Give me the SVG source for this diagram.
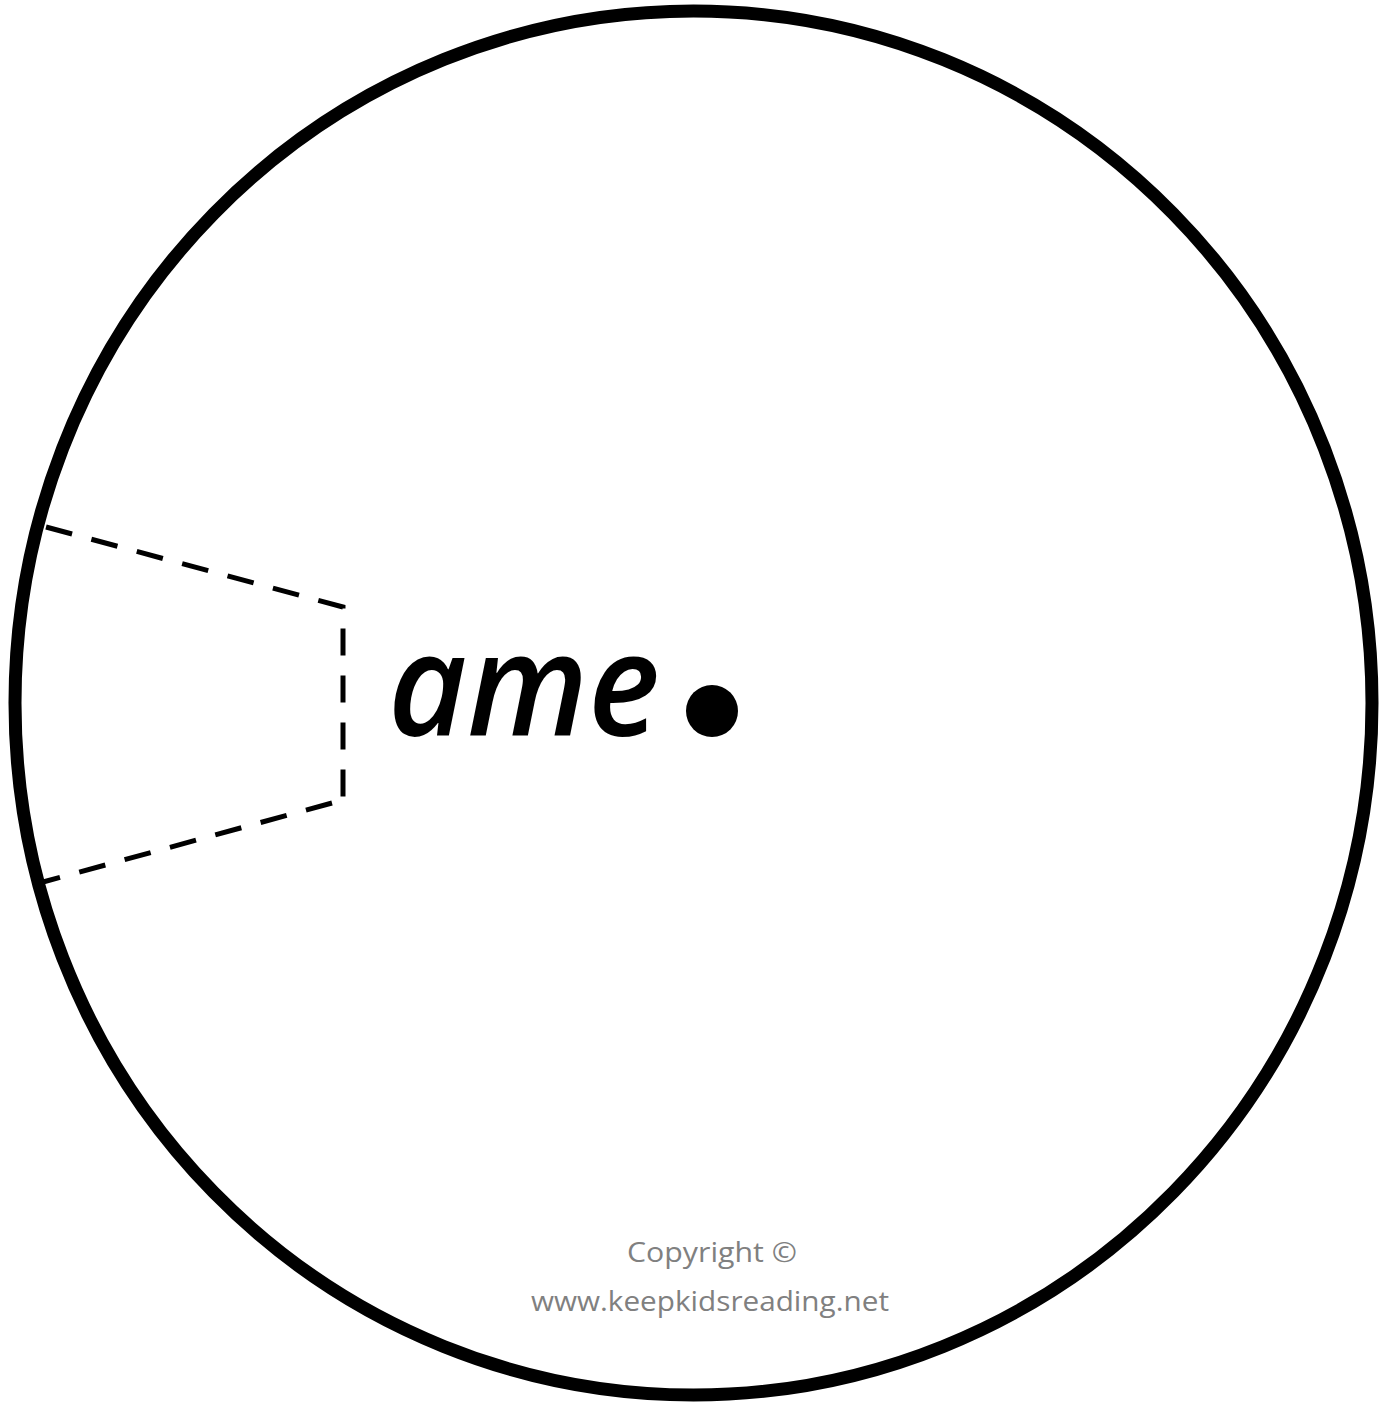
<svg xmlns="http://www.w3.org/2000/svg" width="1399" height="1402" viewBox="0 0 1399 1402">
<style>
.dash{fill:none;stroke:#000;stroke-width:5;stroke-dasharray:27 20}
.copy{font-family:"Open Sans","Liberation Sans",sans-serif;font-size:28px;fill:#808080;text-anchor:middle}
</style>
<rect width="1399" height="1402" fill="#fff"/>
<g id="wheel">
<ellipse cx="693.5" cy="703" rx="678.5" ry="692" fill="#fff" stroke="#000" stroke-width="13"/>
</g>
<g id="window">
<path class="dash" d="M46 527 L343 607 L343 797 L332 803"/>
<path class="dash" d="M332 803 L43 882"/>
</g>
<g id="label">
<text x="388" y="736" font-family="'Open Sans','Noto Sans',sans-serif" font-style="italic" font-weight="600" font-size="144" textLength="272" lengthAdjust="spacingAndGlyphs">ame</text>
</g>
<g id="center">
<circle cx="712" cy="711" r="26" fill="#000"/>
</g>
<g id="copyright">
<text class="copy" x="712" y="1262" textLength="170" lengthAdjust="spacingAndGlyphs">Copyright ©</text>
<text class="copy" x="710" y="1311" textLength="358" lengthAdjust="spacingAndGlyphs">www.keepkidsreading.net</text>
</g>
</svg>
